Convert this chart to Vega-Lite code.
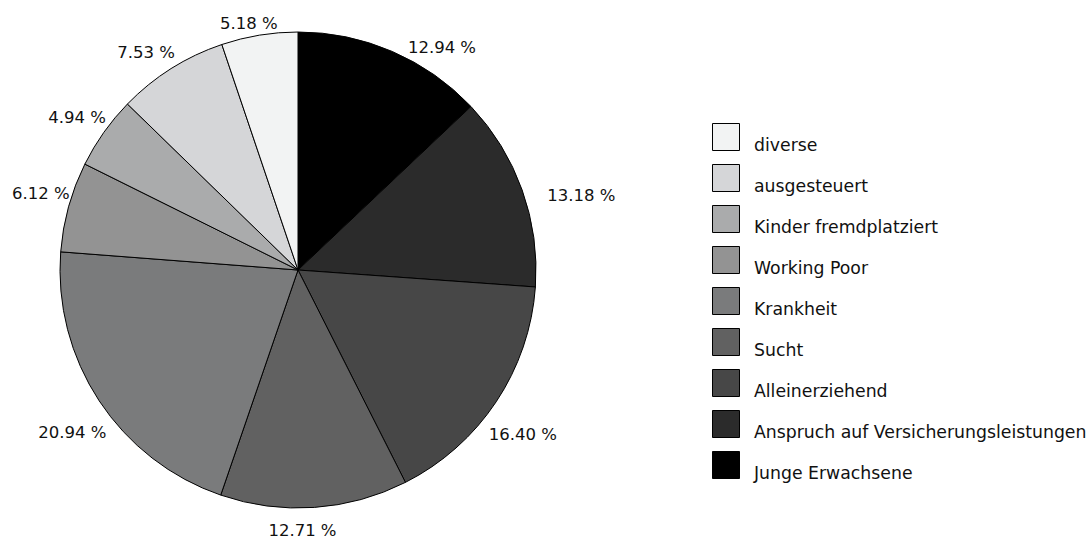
{
  "$schema": "https://vega.github.io/schema/vega-lite/v6.json",
  "width": 596,
  "height": 540,
  "padding": 0,
  "background": "white",
  "config": {"view": {"stroke": null}, "font": "DejaVu Sans", "text": {"font": "DejaVu Sans", "fontSize": 16.5, "color": "#111111"}},
  "data": {
    "values": [
      {"idx": 1, "category": "Junge Erwachsene", "value": 12.94, "label": "12.94 %"},
      {"idx": 2, "category": "Anspruch auf Versicherungsleistungen", "value": 13.18, "label": "13.18 %"},
      {"idx": 3, "category": "Alleinerziehend", "value": 16.40, "label": "16.40 %"},
      {"idx": 4, "category": "Sucht", "value": 12.71, "label": "12.71 %"},
      {"idx": 5, "category": "Krankheit", "value": 20.94, "label": "20.94 %"},
      {"idx": 6, "category": "Working Poor", "value": 6.12, "label": "6.12 %"},
      {"idx": 7, "category": "Kinder fremdplatziert", "value": 4.94, "label": "4.94 %"},
      {"idx": 8, "category": "ausgesteuert", "value": 7.53, "label": "7.53 %"},
      {"idx": 9, "category": "diverse", "value": 5.18, "label": "5.18 %"}
    ]
  },
  "encoding": {
    "theta": {"field": "value", "type": "quantitative", "stack": true},
    "order": {"field": "idx", "type": "quantitative"}
  },
  "layer": [
    {
      "mark": {"type": "arc", "outerRadius": 238, "stroke": "black", "strokeWidth": 1},
      "encoding": {
        "color": {
          "field": "category",
          "type": "nominal",
          "scale": {
            "domain": ["diverse", "ausgesteuert", "Kinder fremdplatziert", "Working Poor", "Krankheit", "Sucht", "Alleinerziehend", "Anspruch auf Versicherungsleistungen", "Junge Erwachsene"],
            "range": ["#f2f3f3", "#d5d6d8", "#aaabac", "#939393", "#7a7b7c", "#616161", "#474747", "#2b2b2b", "#000000"]
          },
          "legend": {
            "title": null,
            "orient": "none",
            "legendX": 712,
            "legendY": 123,
            "padding": 0,
            "symbolType": "square",
            "symbolSize": 729,
            "symbolStrokeColor": "black",
            "symbolStrokeWidth": 1,
            "symbolOpacity": 1,
            "labelFont": "DejaVu Sans",
            "labelFontSize": 17.3,
            "labelColor": "#111111",
            "labelOffset": 14,
            "labelBaseline": "top",
            "labelLimit": 500,
            "rowPadding": 7
          }
        }
      }
    },
    {
      "mark": {"type": "text", "radius": 255, "align": "left", "baseline": "middle", "dx": 9, "dy": 12},
      "encoding": {
        "text": {"condition": {"test": "indexof(['Junge Erwachsene','Anspruch auf Versicherungsleistungen'], datum.category) >= 0", "field": "label"}, "value": ""}
      }
    },
    {
      "mark": {"type": "text", "radius": 270, "align": "center", "baseline": "middle", "dy": 15},
      "encoding": {
        "text": {"condition": {"test": "indexof(['Alleinerziehend','Krankheit'], datum.category) >= 0", "field": "label"}, "value": ""}
      }
    },
    {
      "mark": {"type": "text", "radius": 244, "align": "right", "baseline": "middle", "dx": 7, "dy": -11},
      "encoding": {
        "text": {"condition": {"test": "indexof(['Working Poor','Kinder fremdplatziert','ausgesteuert'], datum.category) >= 0", "field": "label"}, "value": ""}
      }
    },
    {
      "mark": {"type": "text", "radius": 254, "align": "center", "baseline": "top", "dx": -13},
      "encoding": {
        "text": {"condition": {"test": "datum.category == 'Sucht'", "field": "label"}, "value": ""}
      }
    },
    {
      "mark": {"type": "text", "radius": 241, "align": "center", "baseline": "bottom", "dx": -10},
      "encoding": {
        "text": {"condition": {"test": "datum.category == 'diverse'", "field": "label"}, "value": ""}
      }
    }
  ]
}
